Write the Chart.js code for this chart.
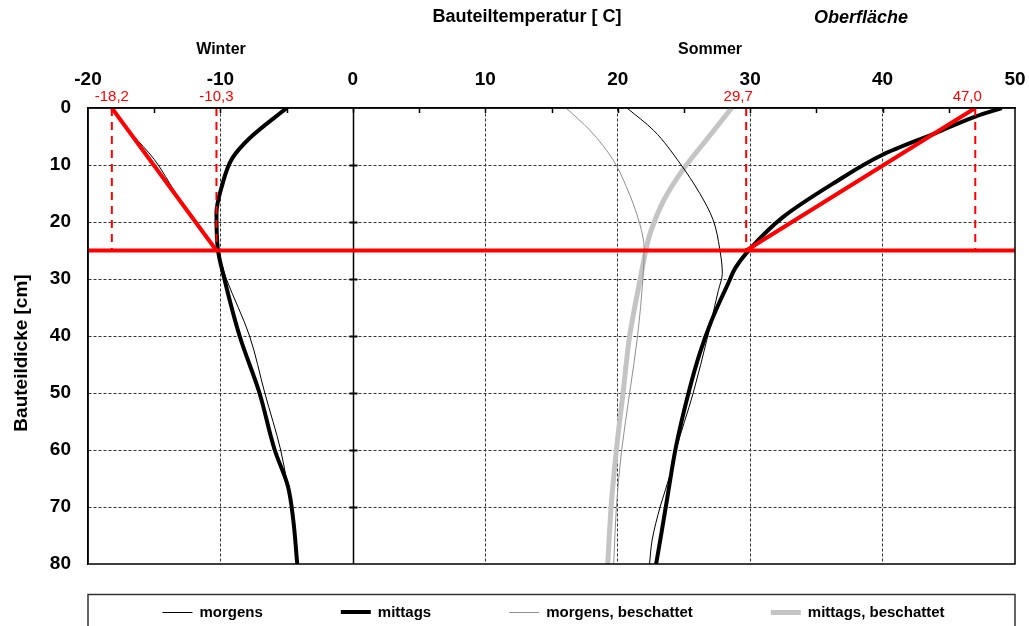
<!DOCTYPE html>
<html><head><meta charset="utf-8">
<script src="https://cdn.jsdelivr.net/npm/chart.js@4/dist/chart.umd.min.js"></script>
<style>html,body{margin:0;padding:0;background:#fff;overflow:hidden}#wrap{width:1029px;height:626px;position:relative}</style>
</head><body><div id="wrap"><canvas id="c" width="1029" height="626"></canvas></div>
<script>
// ---------- data ----------
const xTickValues = [-20, -10, 0, 10, 20, 30, 40, 50];
const yTickValues = [0, 10, 20, 30, 40, 50, 60, 70, 80];
const seriesNames = ['morgens', 'mittags', 'morgens, beschattet', 'mittags, beschattet'];

// Winter, morgens (thin black)
const winterMorgensDepth = [0, 4.5, 9, 15, 20, 25, 30, 40, 50, 60, 66, 72, 80];
const winterMorgensTemp  = [-18.2, -16.7, -15.0, -13.35, -11.8, -10.3, -9.55, -7.8, -6.65, -5.45, -4.95, -4.5, -4.2];
// Winter, mittags (thick black)
const winterMittagsDepth = [0, 5.3, 8.8, 13.8, 18.5, 24.7, 30, 40, 50, 60, 66.4, 72.3, 80];
const winterMittagsTemp  = [-5.0, -7.8, -9.1, -9.9, -10.3, -10.2, -9.7, -8.55, -7.05, -5.9, -4.9, -4.5, -4.2];
// Sommer, morgens (thin black)
const sommerMorgensDepth = [0, 3.9, 9.7, 15, 19.6, 24.7, 29, 32, 36, 40, 50, 60, 64, 70, 75.8, 80];
const sommerMorgensTemp  = [20.7, 22.7, 24.7, 26.2, 27.2, 27.7, 27.9, 27.6, 27.2, 26.8, 25.7, 24.4, 24.0, 23.2, 22.6, 22.4];
// Sommer, mittags (thick black)
const sommerMittagsDepth = [0, 1.5, 4.4, 8.2, 13.2, 19.1, 24.7, 28, 31, 34, 37.8, 43, 49.5, 59.4, 67.6, 74.6, 80];
const sommerMittagsTemp  = [49.0, 47.0, 44.0, 40.0, 36.3, 32.5, 30.0, 28.9, 28.3, 27.7, 27.0, 26.2, 25.4, 24.4, 23.8, 23.3, 22.9];
// Sommer, morgens, beschattet (thin grey)
const morgensBeschDepth = [0, 3.9, 9.1, 13.8, 20.2, 24.7, 30, 40, 50, 60, 70, 80];
const morgensBeschTemp  = [16.1, 17.9, 19.65, 20.65, 21.65, 22.0, 21.9, 21.5, 20.9, 20.3, 19.9, 19.7];
// Sommer, mittags, beschattet (thick light grey)
const mittagsBeschDepth = [0, 5, 10.9, 16.1, 22, 24.7, 30, 40, 50, 60, 70, 80];
const mittagsBeschTemp  = [28.6, 26.9, 24.9, 23.5, 22.45, 22.15, 21.7, 20.9, 20.4, 19.9, 19.5, 19.25];

// red construction (surface/25 cm values)
const markerValues = [-18.2, -10.3, 29.7, 47.0];
const markerLabels = ['-18,2', '-10,3', '29,7', '47,0'];
const markerDepth = 25;
const surfaceDepth = 0;

// ---------- helpers ----------
const FONT = "'Liberation Sans', Arial, Helvetica, sans-serif";
function pts(temps, depths) { return temps.map((t, i) => ({ x: t, y: depths[i] })); }

const THIN_BLACK = { borderColor: '#000000', borderWidth: 1 };
const THICK_BLACK = { borderColor: '#000000', borderWidth: 4 };
const THIN_GREY = { borderColor: '#8f8f8f', borderWidth: 1 };
const THICK_GREY = { borderColor: '#c4c4c4', borderWidth: 5 };
const RED = '#ff0000';

function curve(label, temps, depths, style, legend) {
  return Object.assign({
    label: label, data: pts(temps, depths), showLine: true, pointRadius: 0,
    cubicInterpolationMode: 'monotone', fill: false, order: 5, inLegend: legend
  }, style);
}
function straight(data, width, dash) {
  return { label: '', data: data, showLine: true, pointRadius: 0, borderColor: RED, borderWidth: width,
    borderDash: dash || [], tension: 0, fill: false, order: 0, inLegend: false };
}

const datasets = [
  curve(seriesNames[0], winterMorgensTemp, winterMorgensDepth, THIN_BLACK, true),
  curve(seriesNames[1], winterMittagsTemp, winterMittagsDepth, THICK_BLACK, true),
  curve(seriesNames[2], morgensBeschTemp, morgensBeschDepth, THIN_GREY, true),
  curve(seriesNames[3], mittagsBeschTemp, mittagsBeschDepth, THICK_GREY, true),
  curve(seriesNames[0], sommerMorgensTemp, sommerMorgensDepth, THIN_BLACK, false),
  curve(seriesNames[1], sommerMittagsTemp, sommerMittagsDepth, THICK_BLACK, false),
  straight([{ x: xTickValues[0], y: markerDepth }, { x: xTickValues[xTickValues.length - 1], y: markerDepth }], 4),
  straight([{ x: markerValues[0], y: surfaceDepth }, { x: markerValues[1], y: markerDepth }], 4),
  straight([{ x: markerValues[3], y: surfaceDepth }, { x: markerValues[2], y: markerDepth }], 4),
];
markerValues.forEach(v => datasets.push(straight([{ x: v, y: surfaceDepth }, { x: v, y: markerDepth }], 2, [8, 6])));
datasets[3].order = 8; datasets[2].order = 6;

const gridColorX = ctx => {
  const v = ctx.tick && ctx.tick.value;
  return (v === undefined || v === xTickValues[0] || v === 0 || v === xTickValues[xTickValues.length - 1]) ? 'rgba(0,0,0,0)' : '#333333';
};
const gridColorY = ctx => {
  const v = ctx.tick && ctx.tick.value;
  return (v === undefined || v === yTickValues[0] || v === yTickValues[yTickValues.length - 1]) ? 'rgba(0,0,0,0)' : '#333333';
};

const decor = {
  id: 'decor',
  beforeDatasetsDraw(chart) {
    const { ctx, chartArea: a, scales: { x, y } } = chart;
    ctx.save();
    ctx.strokeStyle = '#000'; ctx.lineWidth = 1.5; ctx.setLineDash([]);
    const x0 = Math.round(x.getPixelForValue(0)) + 0.5;
    ctx.beginPath(); ctx.moveTo(x0, a.top); ctx.lineTo(x0, a.bottom); ctx.stroke();
    for (let v = xTickValues[0] + 5; v < xTickValues[xTickValues.length - 1]; v += 5) {
      const px = Math.round(x.getPixelForValue(v)) + 0.5;
      ctx.beginPath(); ctx.moveTo(px, a.top); ctx.lineTo(px, a.top + 5); ctx.stroke();
    }
    ctx.lineWidth = 2;
    yTickValues.slice(1, -1).forEach(v => {
      const py = Math.round(y.getPixelForValue(v)) + 0.5;
      ctx.beginPath(); ctx.moveTo(x0 - 4, py); ctx.lineTo(x0 + 4, py); ctx.stroke();
    });
    ctx.restore();
  },
  afterDraw(chart) {
    const { ctx, chartArea: a, scales: { x, y } } = chart;
    ctx.save();
    ctx.strokeStyle = '#000'; ctx.lineWidth = 1.5;
    ctx.strokeRect(a.left, a.top, a.right - a.left, a.bottom - a.top);
    ctx.fillStyle = '#000'; ctx.textAlign = 'center'; ctx.textBaseline = 'middle';
    ctx.font = 'bold 18px ' + FONT;
    ctx.fillText('Bauteiltemperatur [ C]', 527, 17);
    ctx.font = 'italic bold 18px ' + FONT;
    ctx.fillText('Oberfläche', 861, 18);
    ctx.font = 'bold 16px ' + FONT;
    ctx.fillText('Winter', 221, 50);
    ctx.fillText('Sommer', 710, 50);
    ctx.save();
    ctx.translate(22, 353); ctx.rotate(-Math.PI / 2);
    ctx.font = 'bold 19px ' + FONT;
    ctx.fillText('Bauteildicke [cm]', 0, 0);
    ctx.restore();
    ctx.fillStyle = RED; ctx.font = '15px ' + FONT;
    markerValues.forEach((v, i) => {
      ctx.fillText(markerLabels[i], x.getPixelForValue(v) - (v > 0 ? 8 : 0), a.top - 11);
    });
    ctx.strokeStyle = '#333'; ctx.lineWidth = 1.5;
    ctx.strokeRect(a.left, 594.5, a.right - a.left, 60);
    ctx.font = 'bold 15px ' + FONT; ctx.textAlign = 'left'; ctx.fillStyle = '#000';
    const items = chart.data.datasets.filter(d => d.inLegend);
    const lineLen = 30, gapText = 7, gapItem = 78;
    const widths = items.map(d => lineLen + gapText + ctx.measureText(d.label).width);
    const total = widths.reduce((s, w) => s + w, 0) + gapItem * (items.length - 1);
    let cx = (a.left + a.right) / 2 - total / 2 + 2;
    const ly = 613;
    items.forEach((d, i) => {
      ctx.strokeStyle = d.borderColor; ctx.lineWidth = d.borderWidth;
      const yy = d.borderWidth % 2 ? ly - 0.5 : ly - 1;
      ctx.beginPath(); ctx.moveTo(cx, yy); ctx.lineTo(cx + lineLen, yy); ctx.stroke();
      ctx.fillText(d.label, cx + lineLen + gapText, ly);
      cx += widths[i] + gapItem;
    });
    ctx.restore();
  }
};

new Chart(document.getElementById('c'), {
  type: 'line',
  data: { datasets: datasets },
  plugins: [decor],
  options: {
    indexAxis: 'y',
    responsive: false, animation: false, devicePixelRatio: 1, events: [],
    layout: { padding: { left: 0, top: 0, right: 14, bottom: 62 } },
    plugins: { legend: { display: false }, tooltip: { enabled: false }, title: { display: false } },
    scales: {
      x: {
        type: 'linear', position: 'top', min: xTickValues[0], max: xTickValues[xTickValues.length - 1],
        afterBuildTicks: s => { s.ticks = xTickValues.map(v => ({ value: v })); },
        ticks: { color: '#000', padding: 17, font: { family: FONT, size: 19, weight: 'bold' }, callback: v => String(v) },
        grid: { drawTicks: false, color: gridColorX, lineWidth: 1 },
        border: { display: true, color: '#000', width: 1.5, dash: [3, 2] },
        afterFit: s => { s.height = 108; s.paddingLeft = 0; s.paddingRight = 0; }
      },
      y: {
        type: 'linear', position: 'left', reverse: true, min: yTickValues[0], max: yTickValues[yTickValues.length - 1],
        afterBuildTicks: s => { s.ticks = yTickValues.map(v => ({ value: v })); },
        ticks: { color: '#000', padding: 17, font: { family: FONT, size: 19, weight: 'bold' }, callback: v => String(v) },
        grid: { drawTicks: false, color: gridColorY, lineWidth: 1 },
        border: { display: true, color: '#000', width: 1.5, dash: [3, 2] },
        afterFit: s => { s.width = 88; s.paddingTop = 0; s.paddingBottom = 0; }
      }
    }
  }
});
</script>
</body></html>
